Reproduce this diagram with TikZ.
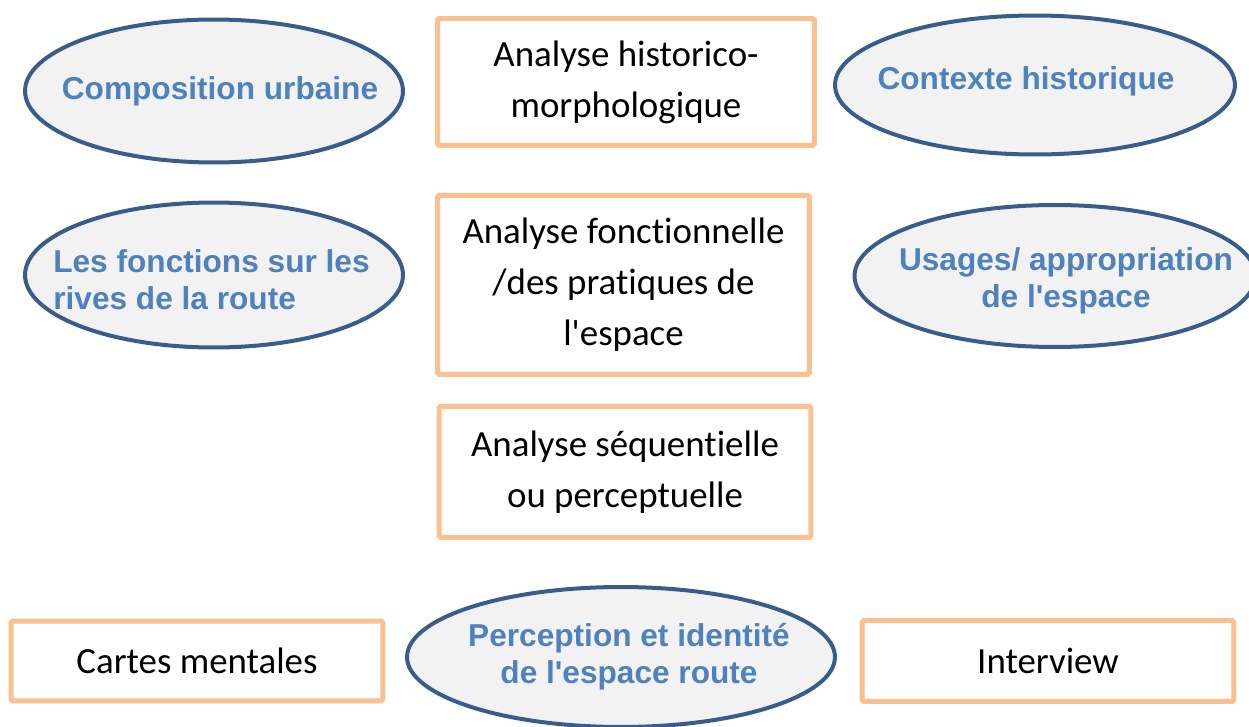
\documentclass[tikz,border=0pt]{standalone}
\usepackage{fontspec}
\setmainfont{Carlito}[Ligatures=NoCommon]
\newfontfamily\arialfont{Liberation Sans}
\usepackage{tikz}
\usetikzlibrary{shapes,positioning}

\definecolor{bordbleu}{HTML}{385D8A}
\definecolor{fondgris}{HTML}{F2F2F2}
\definecolor{txtbleu}{HTML}{4F81BD}
\definecolor{bordorange}{HTML}{FAC090}

\tikzset{
  boite/.style={draw=bordorange, line width=0.1cm, fill=white, rounded corners=1pt,
    minimum width=7.44cm, align=center, inner sep=0pt,
    font=\fontsize{21}{29}\selectfont},
  bulle/.style={ellipse, draw=bordbleu, line width=0.08cm, fill=fondgris, inner sep=0pt},
  bulletxt/.style={text=txtbleu, align=center, inner sep=0pt,
    font=\arialfont\bfseries\fontsize{18}{21}\selectfont}
}

\begin{document}
\begin{tikzpicture}[x=0.02cm, y=-0.02cm]
    \useasboundingbox (0,0) rectangle (1249,727);

    % colonne centrale
    \node[boite, minimum width=7.54cm, minimum height=2.54cm] (hist) at (626,82) {Analyse historico-\\morphologique};
    \node[boite, minimum height=3.58cm, below=0.9cm of hist, xshift=-0.05cm] (fonct) {Analyse fonctionnelle\\/des pratiques de\\l\textquotesingle espace};
    \node[boite, minimum height=2.62cm, below=0.54cm of fonct, xshift=0.03cm] (seq) {Analyse séquentielle\\ou perceptuelle};

    % bulles
    \node[bulle, minimum width=7.56cm, minimum height=2.86cm,
      label={[bulletxt, xshift=0.12cm]center:Composition urbaine}] (comp) at (214,91) {};
    \node[bulle, minimum width=8cm, minimum height=2.78cm,
      label={[bulletxt, xshift=-0.18cm, yshift=0.08cm]center:Contexte historique}] (ctx) at (1035,85) {};
    \node[bulle, minimum width=7.56cm, minimum height=2.9cm,
      label={[bulletxt, align=left, xshift=-0.05cm, yshift=-0.1cm]center:Les fonctions sur les\\rives de la route}] (rives) at (214,275) {};
    \node[bulle, minimum width=8.02cm, minimum height=2.84cm,
      label={[bulletxt, xshift=0.22cm, yshift=-0.1cm]center:Usages/ appropriation\\de l\textquotesingle espace}] (usages) at (1055,276) {};
    \node[bulle, minimum width=8.56cm, minimum height=2.8cm,
      label={[bulletxt, xshift=0.16cm]center:Perception et identité\\de l\textquotesingle espace route}] (percep) at (621,657) {};

    % outils
    \node[boite, minimum height=1.6cm] (cartes) at (197,661) {Cartes mentales};
    \node[boite, minimum height=1.62cm] (interv) at (1048,661) {Interview};
\end{tikzpicture}
\end{document}
